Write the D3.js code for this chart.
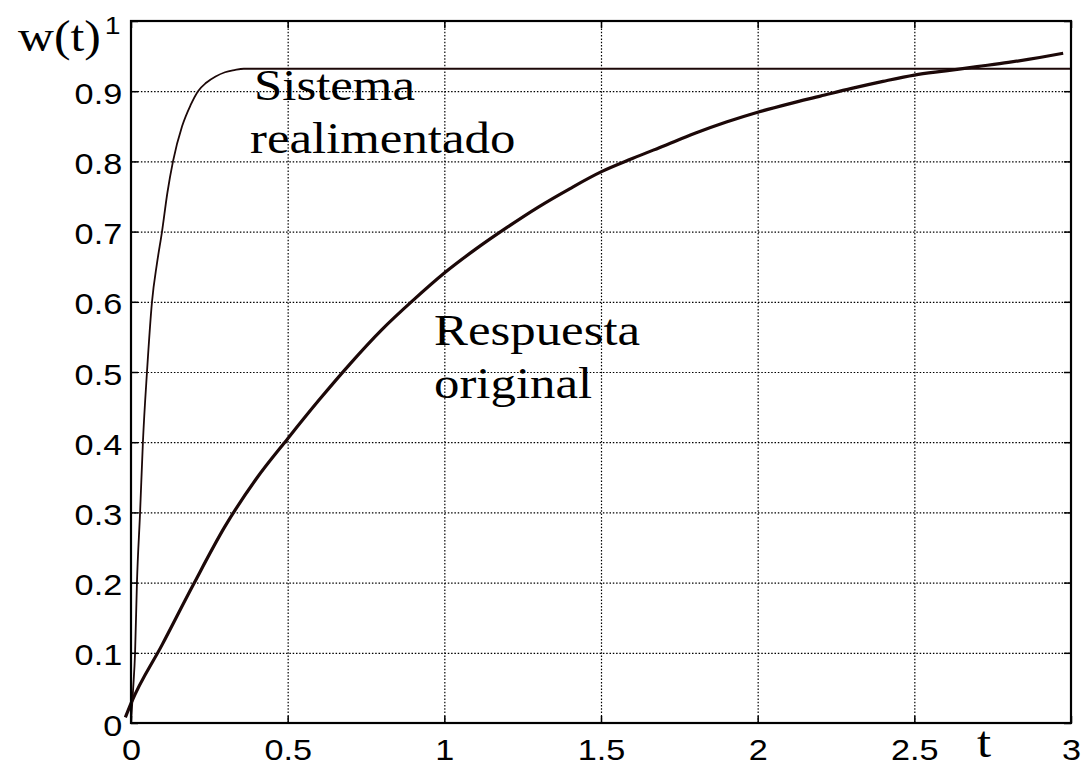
<!DOCTYPE html>
<html>
<head>
<meta charset="utf-8">
<script src="https://cdn.jsdelivr.net/npm/d3@7"></script>
<style>
  html, body { margin: 0; padding: 0; background: #fff; }
  svg { display: block; }
</style>
</head>
<body>
<svg id="chart" width="1084" height="769"></svg>
<script>
// Step response of the original plant and of the closed-loop system
const tTicks = [0, 0.5, 1, 1.5, 2, 2.5, 3];
const tTickLabels = ["0", "0.5", "1", "1.5", "2", "2.5", "3"];
const wTicks = [0, 0.1, 0.2, 0.3, 0.4, 0.5, 0.6, 0.7, 0.8, 0.9, 1];
const wTickLabels = ["0", "0.1", "0.2", "0.3", "0.4", "0.5", "0.6", "0.7", "0.8", "0.9", "1"];

// Closed-loop ("Sistema realimentado") response
const fastT = [0, 0.007, 0.013, 0.019, 0.029, 0.038, 0.051, 0.067, 0.083, 0.099, 0.116, 0.134, 0.163, 0.19, 0.214, 0.24, 0.27, 0.30, 0.33, 0.36, 3.0];
const fastW = [0, 0.05, 0.10, 0.20, 0.30, 0.40, 0.50, 0.60, 0.655, 0.70, 0.755, 0.80, 0.85, 0.88, 0.90, 0.912, 0.921, 0.927, 0.930, 0.932, 0.932];

// Open-loop ("Respuesta original") response
const slowT = [-0.018, 0, 0.1, 0.2, 0.3, 0.4, 0.5, 0.6, 0.7, 0.8, 0.9, 1.0, 1.1, 1.2, 1.3, 1.4, 1.5, 1.6, 1.7, 1.8, 1.9, 2.0, 2.1, 2.2, 2.3, 2.4, 2.5, 2.6, 2.7, 2.8, 2.9, 2.975];
const slowW = [0.008, 0.028, 0.112, 0.198, 0.280, 0.348, 0.405, 0.460, 0.512, 0.560, 0.602, 0.641, 0.675, 0.706, 0.735, 0.761, 0.785, 0.804, 0.822, 0.840, 0.856, 0.870, 0.882, 0.893, 0.904, 0.914, 0.923, 0.929, 0.935, 0.941, 0.948, 0.954];

const svg = d3.select("#chart");
const plot = { left: 131, right: 1071, top: 21, bottom: 723 };
const W = plot.right - plot.left, H = plot.bottom - plot.top;

const x = d3.scaleLinear().domain([0, 3]).range([plot.left, plot.right]);
const y = d3.scaleLinear().domain([0, 1]).range([plot.bottom, plot.top]);

const sansFont = "'Liberation Sans', Arial, Helvetica, sans-serif";
const serifFont = "'Liberation Serif', 'Times New Roman', Times, serif";
const stretch = "scale(1.18,1)";

// dotted grid
const gridStyle = g => {
  g.select(".domain").remove();
  g.selectAll(".tick line")
    .attr("stroke", "#000").attr("stroke-width", 1.2)
    .attr("stroke-dasharray", "1.5,1.8");
};
svg.append("g")
  .attr("transform", `translate(0,${plot.bottom})`)
  .call(d3.axisBottom(x).tickValues(tTicks.slice(1, -1)).tickSize(-H).tickFormat(""))
  .call(gridStyle);
svg.append("g")
  .attr("transform", `translate(${plot.left},0)`)
  .call(d3.axisLeft(y).tickValues(wTicks.slice(1, -1)).tickSize(-W).tickFormat(""))
  .call(gridStyle);

// curves
const line = (ts, ws) => d3.line()
  .x((d, i) => x(ts[i]))
  .y((d, i) => y(ws[i]))
  .curve(d3.curveMonotoneX)(ts);

svg.append("path")
  .attr("d", line(slowT, slowW))
  .attr("fill", "none").attr("stroke", "#1c0808")
  .attr("stroke-width", 3.2).attr("stroke-linejoin", "round");

svg.append("path")
  .attr("d", line(fastT, fastW))
  .attr("fill", "none").attr("stroke", "#1c0808")
  .attr("stroke-width", 1.8).attr("stroke-linejoin", "round");

// inward ticks on all four sides
const tickStyle = g => {
  g.select(".domain").remove();
  g.selectAll(".tick line").attr("stroke", "#000").attr("stroke-width", 1.5);
};
const xBottom = svg.append("g")
  .attr("transform", `translate(0,${plot.bottom})`)
  .call(d3.axisBottom(x).tickValues(tTicks).tickSizeInner(-7).tickSizeOuter(0)
    .tickFormat((d, i) => tTickLabels[i]))
  .call(tickStyle);
xBottom.selectAll(".tick text")
  .attr("y", 37).attr("dy", null)
  .attr("transform", stretch)
  .attr("font-family", sansFont).attr("font-size", 29).attr("fill", "#000");

svg.append("g")
  .attr("transform", `translate(0,${plot.top})`)
  .call(d3.axisTop(x).tickValues(tTicks).tickSizeInner(-7).tickSizeOuter(0).tickFormat(""))
  .call(tickStyle);

const yLeft = svg.append("g")
  .attr("transform", `translate(${plot.left},0)`)
  .call(d3.axisLeft(y).tickValues(wTicks).tickSizeInner(-7).tickSizeOuter(0)
    .tickFormat((d, i) => wTickLabels[i]))
  .call(tickStyle);
yLeft.selectAll(".tick text")
  .attr("x", -7.5).attr("y", 12).attr("dy", null)
  .attr("transform", stretch)
  .attr("font-family", sansFont).attr("font-size", 29).attr("fill", "#000");
// the top label sits beside the axis title and is set a little smaller
yLeft.selectAll(".tick text").filter(d => d === 1)
  .attr("font-size", 24).attr("y", 12).attr("x", -9);

svg.append("g")
  .attr("transform", `translate(${plot.right},0)`)
  .call(d3.axisRight(y).tickValues(wTicks).tickSizeInner(-7).tickSizeOuter(0).tickFormat(""))
  .call(tickStyle);

// frame
svg.append("rect")
  .attr("x", plot.left).attr("y", plot.top)
  .attr("width", W).attr("height", H)
  .attr("fill", "none").attr("stroke", "#000").attr("stroke-width", 2.2);

// text annotations
const serifText = (str, px, py, size) => svg.append("text")
  .attr("transform", `translate(${px},${py}) scale(1.13,1)`)
  .attr("font-family", serifFont).attr("font-size", size || 45).attr("fill", "#000")
  .text(str);

serifText("w(t)", 18, 51, 44);
serifText("t", 977, 757);
serifText("Sistema", 254, 100);
serifText("realimentado", 250, 153);
serifText("Respuesta", 434, 345);
serifText("original", 434, 398);
</script>
</body>
</html>
